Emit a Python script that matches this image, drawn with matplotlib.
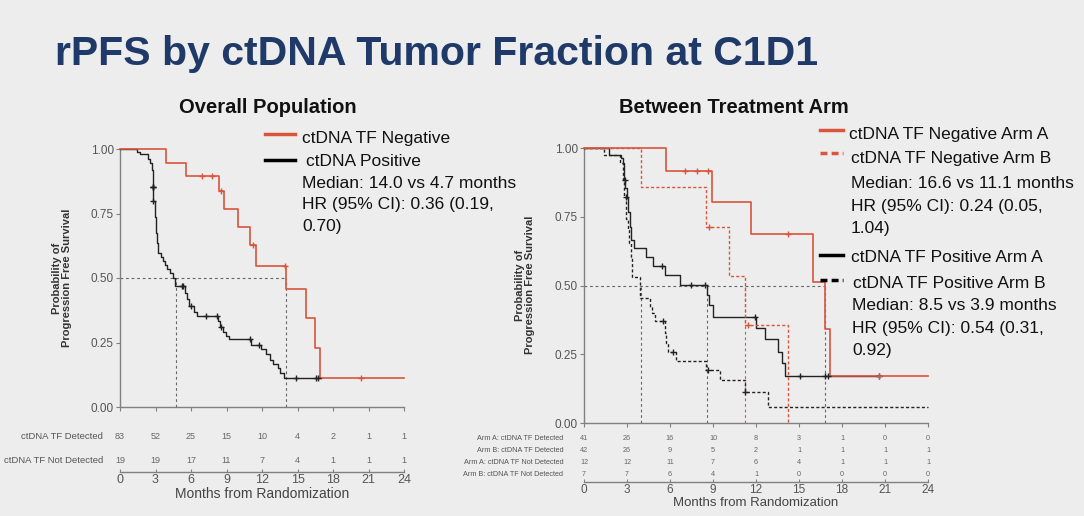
import matplotlib
matplotlib.use('Agg')
import matplotlib.pyplot as plt
import numpy as np

plt.rcParams['font.family'] = ['Liberation Sans', 'DejaVu Sans']

# ---------------- data ----------------
months_ticks = [0, 3, 6, 9, 12, 15, 18, 21, 24]

# Overall population
neg_t = [0, 3.9, 5.6, 8.35, 8.8, 10.0, 11.0, 11.5, 14.0, 15.7, 16.5, 16.9, 24]
neg_s = [1.0, 0.947, 0.895, 0.839, 0.767, 0.696, 0.628, 0.548, 0.457, 0.344, 0.227, 0.111, 0.111]
neg_c = [6.9, 7.8, 8.5, 11.2, 13.95, 20.4]

pos_t = [0, 1.40, 1.69, 2.39, 2.53, 2.67, 2.75, 2.81, 2.95, 3.03, 3.09, 3.2, 3.43, 3.65,
         3.82, 3.99, 4.21, 4.44, 4.63, 5.5, 5.65, 5.81, 6.24, 6.52, 8.31, 8.43, 8.71,
         8.93, 9.21, 11.04, 11.94, 12.36, 12.64, 12.92, 13.34, 13.54, 13.82, 17.0]
pos_s = [1.0, 0.988, 0.979, 0.96, 0.944, 0.919, 0.854, 0.80, 0.738, 0.673, 0.634, 0.596,
         0.583, 0.567, 0.55, 0.534, 0.518, 0.499, 0.469, 0.44, 0.417, 0.391, 0.37, 0.354,
         0.335, 0.311, 0.292, 0.275, 0.262, 0.24, 0.224, 0.205, 0.182, 0.167, 0.15, 0.13,
         0.111, 0.111]
pos_c = [2.76, 2.78, 2.8, 2.82, 5.2, 5.34, 6.04, 7.3, 8.2, 8.57, 10.95, 11.74, 14.9, 16.55, 16.7]

left_medians = [4.7, 14.0]

left_risk_labels = ['ctDNA TF Detected', 'ctDNA TF Not Detected']
left_risk = [[83, 52, 25, 15, 10, 4, 2, 1, 1],
             [19, 19, 17, 11, 7, 4, 1, 1, 1]]

# Between treatment arm
negA_t = [0, 5.71, 8.95, 11.68, 15.99, 16.81, 17.15, 24]
negA_s = [1.0, 0.917, 0.805, 0.687, 0.514, 0.342, 0.172, 0.172]
negA_c = [7.02, 7.9, 8.65, 14.2, 20.6]

negB_t = [0, 3.99, 8.53, 10.09, 11.21, 14.2]
negB_s = [1.0, 0.857, 0.714, 0.536, 0.357, 0.0]
negB_c = [8.69, 11.45]

posA_t = [0, 1.77, 2.59, 2.7, 2.77, 2.87, 3.0, 3.1, 3.19, 3.29, 3.52, 4.34, 4.8, 5.62,
          6.67, 8.6, 8.69, 9.0, 12.03, 12.61, 13.54, 13.78, 14.01, 20.6]
posA_s = [1.0, 0.975, 0.962, 0.944, 0.884, 0.853, 0.817, 0.768, 0.714, 0.665, 0.635,
          0.605, 0.571, 0.538, 0.502, 0.465, 0.429, 0.387, 0.344, 0.304, 0.259, 0.217,
          0.171, 0.171]
posA_c = [2.85, 5.45, 7.48, 8.41, 11.96, 15.06, 16.81, 16.99, 20.6]

posB_t = [0, 1.42, 2.54, 2.7, 2.82, 2.94, 3.05, 3.17, 3.29, 3.36, 3.94, 4.57, 4.73, 4.92,
          5.62, 5.73, 5.85, 6.43, 8.53, 9.46, 11.21, 12.84, 24]
posB_s = [1.0, 0.976, 0.944, 0.884, 0.823, 0.741, 0.702, 0.653, 0.605, 0.532, 0.453,
          0.423, 0.401, 0.372, 0.326, 0.29, 0.259, 0.225, 0.193, 0.156, 0.114, 0.058, 0.058]
posB_c = [2.93, 5.5, 6.2, 8.65, 11.26]

right_medians = [3.95, 8.6, 11.2, 16.8]

right_risk_labels = ['Arm A: ctDNA TF Detected', 'Arm B: ctDNA TF Detected',
                     'Arm A: ctDNA TF Not Detected', 'Arm B: ctDNA TF Not Detected']
right_risk = [[41, 26, 16, 10, 8, 3, 1, 0, 0],
              [42, 26, 9, 5, 2, 1, 1, 1, 1],
              [12, 12, 11, 7, 6, 4, 1, 1, 1],
              [7, 7, 6, 4, 1, 0, 0, 0, 0]]

# ---------------- style ----------------
RED = '#d9553c'
BLK = '#222222'
GRAY = '#666666'
AXC = '#808080'
BG = '#ededed'
NAVY = '#1f3a68'
DASH = (0, (2.2, 1.6))
MED = (0, (2.5, 2.5))

W, H = 1084, 516
fig = plt.figure(figsize=(W / 100, H / 100), dpi=100)
fig.patch.set_facecolor(BG)


def ax_px(l, t, r, b):
    return fig.add_axes([l / W, 1 - b / H, (r - l) / W, (b - t) / H])


def km(ax, t, s, cens, color, ls, lw):
    ax.step(t, s, where='post', color=color, ls=ls, lw=lw, clip_on=False, zorder=3)
    t = np.asarray(t)
    cy = [s[np.searchsorted(t, c, side='right') - 1] for c in cens]
    ax.plot(cens, cy, '+', color=color, ms=5, mew=1.0, clip_on=False, zorder=4)


def style_km(ax):
    ax.set_xlim(0, 24)
    ax.set_ylim(0, 1)
    ax.set_facecolor('none')
    for sp in ['top', 'right']:
        ax.spines[sp].set_visible(False)
    for sp in ['left', 'bottom']:
        ax.spines[sp].set_color(AXC)
        ax.spines[sp].set_linewidth(1.0)
    ax.set_xticks(months_ticks)
    ax.set_xticklabels([])
    ax.set_yticks([0, 0.25, 0.5, 0.75, 1.0])
    ax.set_yticklabels(['0.00', '0.25', '0.50', '0.75', '1.00'], fontsize=8.5, color='#555555')
    ax.tick_params(length=3, width=0.8, color=AXC, pad=1.5)


def risk_table(ax, rows, labels, nsize, lsize, tsize, xsize, ylim, xlabel_pad):
    ax.set_facecolor('none')
    ax.set_xlim(0, 24)
    ax.set_ylim(*ylim)
    for sp in ['top', 'right', 'left']:
        ax.spines[sp].set_visible(False)
    ax.spines['bottom'].set_color(AXC)
    ax.spines['bottom'].set_linewidth(1.0)
    ax.set_yticks([])
    ax.set_xticks(months_ticks)
    ax.set_xticklabels([str(m) for m in months_ticks], fontsize=tsize, color='#555555')
    ax.tick_params(axis='x', length=2.5, width=0.8, color=AXC, pad=1.5, direction='in')
    ax.set_xlabel('Months from Randomization', fontsize=xsize, color='#444444', labelpad=xlabel_pad)
    for i, (row, lab) in enumerate(zip(rows, labels)):
        for m, v in zip(months_ticks, row):
            ax.text(m, i, str(v), ha='center', va='center', fontsize=nsize, color='#666666')
        ax.text(-0.06, i, lab, ha='right', va='center', fontsize=lsize, color='#555555',
                transform=ax.get_yaxis_transform())


# ---------------- titles ----------------
fig.text(55 / W, 1 - 65 / H, 'rPFS by ctDNA Tumor Fraction at C1D1', fontsize=29.5,
         fontweight='bold', color=NAVY, ha='left', va='baseline')
fig.text(268 / W, 1 - 113 / H, 'Overall Population', fontsize=14.5, fontweight='bold',
         color='#111111', ha='center', va='baseline')
fig.text(734 / W, 1 - 113 / H, 'Between Treatment Arm', fontsize=14.5, fontweight='bold',
         color='#111111', ha='center', va='baseline')

# ---------------- left KM ----------------
axL = ax_px(120, 149, 404, 407)
style_km(axL)
axL.plot([0, left_medians[1]], [0.5, 0.5], color=GRAY, ls=MED, lw=0.8, zorder=1)
for m in left_medians:
    axL.plot([m, m], [0, 0.5], color=GRAY, ls=MED, lw=0.8, zorder=1)
km(axL, pos_t, pos_s, pos_c, BLK, '-', 1.0)
km(axL, neg_t, neg_s, neg_c, RED, '-', 1.2)

fig.text(62 / W, 1 - 278 / H, 'Probability of\nProgression Free Survival', rotation=90,
         fontsize=8, fontweight='bold', color='#333333', ha='center', va='center',
         multialignment='center', linespacing=1.1)

# legend left
fig.add_artist(plt.Line2D([265 / W, 295 / W], [1 - 134 / H, 1 - 134 / H], color=RED, lw=2.5))
fig.add_artist(plt.Line2D([265 / W, 295 / W], [1 - 160 / H, 1 - 160 / H], color='black', lw=2.5))
legL = [(302, 139, 'ctDNA TF Negative'), (306, 162, 'ctDNA Positive'),
        (302, 184, 'Median: 14.0 vs 4.7 months'), (302, 205, 'HR (95% CI): 0.36 (0.19,'),
        (302, 227, '0.70)')]
for x, y, s in legL:
    fig.text(x / W, 1 - y / H, s, fontsize=12.5, color='#111111', ha='left', va='center')

# risk table left
rtL = ax_px(120, 428, 404, 472)
risk_table(rtL, left_risk, left_risk_labels, 6.5, 6.8, 9, 10, (1.52, -0.39), 0.5)

# ---------------- right KM ----------------
axR = ax_px(584, 148, 928, 423)
style_km(axR)
axR.plot([0, right_medians[3]], [0.5, 0.5], color=GRAY, ls=MED, lw=0.8, zorder=1)
for m, c in zip(right_medians, [GRAY, GRAY, RED, GRAY]):
    axR.plot([m, m], [0, 0.5], color=c, ls=MED, lw=0.8, zorder=1)
km(axR, posB_t, posB_s, posB_c, BLK, DASH, 1.0)
km(axR, posA_t, posA_s, posA_c, BLK, '-', 1.0)
km(axR, negB_t, negB_s, negB_c, RED, DASH, 1.0)
km(axR, negA_t, negA_s, negA_c, RED, '-', 1.2)

fig.text(525 / W, 1 - 285 / H, 'Probability of\nProgression Free Survival', rotation=90,
         fontsize=8, fontweight='bold', color='#333333', ha='center', va='center',
         multialignment='center', linespacing=1.1)

# legend right
for y, c, ls in [(130, RED, '-'), (153, RED, (0, (2, 1.2))), (255, 'black', '-'), (280, 'black', (0, (2, 1.2)))]:
    fig.add_artist(plt.Line2D([820 / W, 843 / W], [1 - y / H, 1 - y / H], color=c, lw=2.5, ls=ls))
legR = [(849, 135, 'ctDNA TF Negative Arm A'), (851, 159, 'ctDNA TF Negative Arm B'),
        (851, 183, 'Median: 16.6 vs 11.1 months'), (851, 206, 'HR (95% CI): 0.24 (0.05,'),
        (851, 228, '1.04)'),
        (851, 257, 'ctDNA TF Positive Arm A'), (853, 283, 'ctDNA TF Positive Arm B'),
        (852, 305, 'Median: 8.5 vs 3.9 months'), (852, 328, 'HR (95% CI): 0.54 (0.31,'),
        (852, 350, '0.92)')]
for x, y, s in legR:
    fig.text(x / W, 1 - y / H, s, fontsize=12.5, color='#111111', ha='left', va='center')

# risk table right
rtR = ax_px(584, 430, 928, 482)
risk_table(rtR, right_risk, right_risk_labels, 5.2, 5.2, 8.5, 9.5, (3.57, -0.65), 0.5)

fig.savefig('out.png', dpi=100, facecolor=BG)
